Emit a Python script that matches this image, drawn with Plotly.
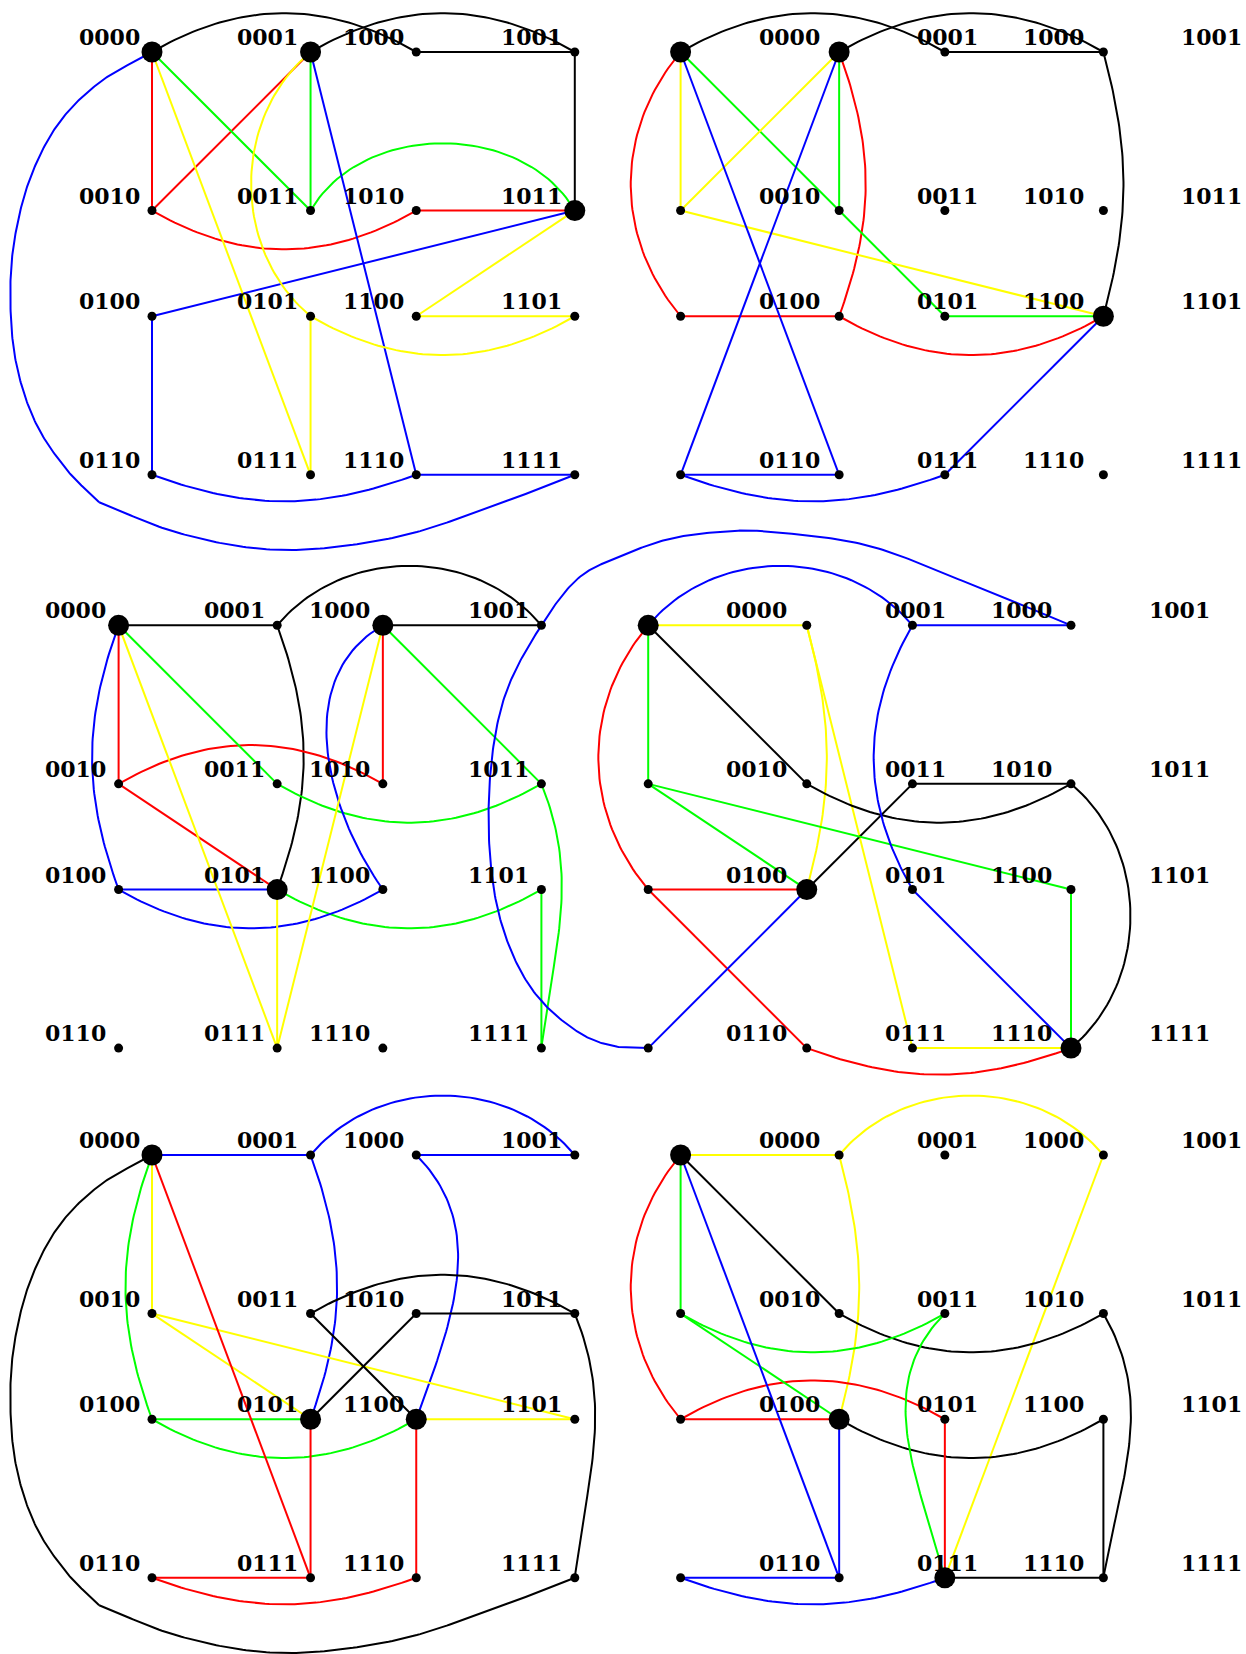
import math
import numpy as np
import plotly.graph_objects as go

# ---------------- data ----------------
GRID_LABELS = [
    ["0000", "0001", "1000", "1001"],
    ["0010", "0011", "1010", "1011"],
    ["0100", "0101", "1100", "1101"],
    ["0110", "0111", "1110", "1111"],
]
COL_POS = [0.0, 1.5, 2.5, 4.0]
ROW_POS = [0.0, 1.5, 2.5, 4.0]

COLORS = {"k": "#000000", "r": "#ff0000", "g": "#00ff00", "b": "#0000ff", "y": "#ffff00"}

# panel origins in page pixels, label shift (in units), big nodes
PANEL_ORIGIN = [(152.0, 52.0), (680.6, 52.0), (118.6, 625.3), (648.2, 625.3), (152.0, 1155.0), (680.6, 1155.0)]
PANEL_LABEL_SHIFT = [0.0, 1.434, 0.0, 1.434, 0.0, 1.434]
PANEL_BIG = [
    ["0000", "0001", "1011"],
    ["0000", "0001", "1101"],
    ["0000", "1000", "0101"],
    ["0000", "0101", "1111"],
    ["0000", "0101", "1100"],
    ["0000", "0101", "1110"],
]

# waypoint paths (in grid units, relative to panel origin); each inner list is one smooth piece
PATHS = {
    "loopA": [
        [(0, 0), (-0.50, 0.29), (-0.88, 0.67), (-1.14, 1.16), (-1.29, 1.71), (-1.34, 2.23),
         (-1.29, 2.92), (-1.10, 3.51), (-0.80, 3.96), (-0.50, 4.26)],
        [(-0.50, 4.26), (0.25, 4.55), (1.18, 4.71), (2.31, 4.59), (3.24, 4.29), (4, 4)],
    ],
    "loopB": [
        [(0, 4), (-0.28, 3.99), (-0.61, 3.88), (-1.08, 3.47), (-1.40, 2.78), (-1.51, 1.75),
         (-1.37, 0.71), (-1.01, 0.0), (-0.645, -0.46), (-0.27, -0.65), (0.21, -0.82),
         (0.84, -0.895), (1.15, -0.885), (2.06, -0.76), (3.0, -0.41), (4, 0)],
    ],
}

# edges: (from, to, colour, bend) ; bend = angle in degrees, (out, in) angles, or path name
EDGES = [
    [  # panel 1
        ("0000", "1000", "k", -30), ("0001", "1001", "k", -30), ("1000", "1001", "k", 0), ("1001", "1011", "k", 0),
        ("0000", "0010", "r", 0), ("0001", "0010", "r", 0), ("0010", "1010", "r", 30), ("1010", "1011", "r", 0),
        ("0000", "0011", "g", 0), ("0001", "0011", "g", 0), ("0011", "1011", "g", -60),
        ("0000", "1111", "b", "loopA"), ("0001", "1110", "b", 0), ("0100", "1011", "b", 0),
        ("0100", "0110", "b", 0), ("0110", "1110", "b", 20), ("1110", "1111", "b", 0),
        ("0000", "0111", "y", 0), ("0001", "0101", "y", 50), ("0101", "0111", "y", 0),
        ("0101", "1101", "y", 30), ("1100", "1101", "y", 0), ("1011", "1100", "y", 0),
    ],
    [  # panel 2
        ("0000", "1000", "k", -30), ("0001", "1001", "k", -30), ("1000", "1001", "k", 0), ("1001", "1101", "k", -15),
        ("0000", "0100", "r", 40), ("0001", "0101", "r", -20), ("0100", "0101", "r", 0), ("0101", "1101", "r", 30),
        ("0000", "0011", "g", 0), ("0001", "0011", "g", 0), ("0011", "1100", "g", 0), ("1100", "1101", "g", 0),
        ("0000", "0010", "y", 0), ("0001", "0010", "y", 0), ("0010", "1101", "y", 0),
        ("0000", "0111", "b", 0), ("0001", "0110", "b", 0), ("0110", "0111", "b", 0),
        ("0110", "1110", "b", 20), ("1110", "1101", "b", 0),
    ],
    [  # panel 3
        ("0000", "0001", "k", 0), ("0001", "1001", "k", -50), ("1000", "1001", "k", 0), ("0001", "0101", "k", -20),
        ("0000", "0010", "r", 0), ("0010", "1010", "r", -30), ("1000", "1010", "r", 0), ("0010", "0101", "r", 0),
        ("0000", "0011", "g", 0), ("0011", "1011", "g", 30), ("1000", "1011", "g", 0),
        ("1011", "1111", "g", (-22, -7)), ("1101", "1111", "g", 0), ("0101", "1101", "g", 30),
        ("0000", "0100", "b", 20), ("0100", "0101", "b", 0), ("0100", "1100", "b", 30), ("1000", "1100", "b", (60, 35)),
        ("0000", "0111", "y", 0), ("0101", "0111", "y", 0), ("1000", "0111", "y", 0),
    ],
    [  # panel 4
        ("0000", "0001", "y", 0), ("0001", "0101", "y", -15), ("0001", "1110", "y", 0), ("1110", "1111", "y", 0),
        ("0000", "0011", "k", 0), ("0011", "1011", "k", 30), ("1010", "1011", "k", 0),
        ("1010", "0101", "k", 0), ("1011", "1111", "k", -50),
        ("0000", "0100", "r", 40), ("0100", "0101", "r", 0), ("0100", "0111", "r", 0), ("0111", "1111", "r", 20),
        ("0000", "0010", "g", 0), ("0010", "0101", "g", 0), ("0010", "1101", "g", 0), ("1101", "1111", "g", 0),
        ("0000", "1000", "b", -50), ("1000", "1001", "b", 0), ("1000", "1100", "b", 30),
        ("1100", "1111", "b", 0), ("0101", "0110", "b", 0), ("0110", "1001", "b", "loopB"),
    ],
    [  # panel 5
        ("0000", "0001", "b", 0), ("0001", "1001", "b", -50), ("1000", "1001", "b", 0),
        ("0001", "0101", "b", -20), ("1000", "1100", "b", (-45, -20)),
        ("0000", "0100", "g", 20), ("0100", "0101", "g", 0), ("0100", "1100", "g", 30),
        ("0000", "0010", "y", 0), ("0010", "0101", "y", 0), ("0010", "1101", "y", 0), ("1100", "1101", "y", 0),
        ("0000", "0111", "r", 0), ("0101", "0111", "r", 0), ("0110", "0111", "r", 0),
        ("0110", "1110", "r", 20), ("1100", "1110", "r", 0),
        ("0011", "1011", "k", -30), ("0011", "1100", "k", 0), ("1010", "1011", "k", 0),
        ("1010", "0101", "k", 0), ("1011", "1111", "k", (-22, -7)), ("0000", "1111", "k", "loopA"),
    ],
    [  # panel 6
        ("0000", "0001", "y", 0), ("0001", "1001", "y", -50), ("0001", "0101", "y", -15), ("1001", "1110", "y", 0),
        ("0000", "0011", "k", 0), ("0011", "1011", "k", 30), ("1011", "1111", "k", (-30, -10)),
        ("0101", "1101", "k", 30), ("1101", "1111", "k", 0), ("1110", "1111", "k", 0),
        ("0000", "0100", "r", 40), ("0100", "0101", "r", 0), ("0100", "1100", "r", -30), ("1100", "1110", "r", 0),
        ("0000", "0010", "g", 0), ("0010", "1010", "g", 30), ("0010", "0101", "g", 0), ("1010", "1110", "g", (45, 15)),
        ("0000", "0111", "b", 0), ("0101", "0111", "b", 0), ("0110", "0111", "b", 0), ("0110", "1110", "b", 20),
    ],
]

# ---------------- geometry helpers ----------------
UNIT = 105.7
W, H = 1246, 1654

NODE_UNIT = {}
for r, row in enumerate(GRID_LABELS):
    for c, lab in enumerate(row):
        NODE_UNIT[lab] = (COL_POS[c], ROW_POS[r])


def to_px(panel, u, v):
    ox, oy = PANEL_ORIGIN[panel]
    return ox + u * UNIT, oy + v * UNIT


def bend_curve(p0, p3, ang, n=60):
    ao, ai = (ang, ang) if not isinstance(ang, tuple) else ang
    p0 = np.array(p0, float)
    p3 = np.array(p3, float)
    d = p3 - p0
    L = np.hypot(*d)
    t = d / L
    nrm = np.array([-t[1], t[0]])
    k = 0.3915 * L
    ro, ri = math.radians(ao), math.radians(ai)
    p1 = p0 + k * (math.cos(ro) * t + math.sin(ro) * nrm)
    p2 = p3 + k * (-math.cos(ri) * t + math.sin(ri) * nrm)
    ts = np.linspace(0, 1, n)[:, None]
    pts = ((1 - ts) ** 3) * p0 + 3 * ((1 - ts) ** 2) * ts * p1 + 3 * (1 - ts) * ts ** 2 * p2 + ts ** 3 * p3
    return pts[:, 0], pts[:, 1]


def catmull(points, n=30, alpha=0.5):
    P = [np.array(p, float) for p in points]
    ext = [2 * P[0] - P[1]] + P + [2 * P[-1] - P[-2]]
    xs, ys = [], []
    for i in range(1, len(ext) - 2):
        p0, p1, p2, p3 = ext[i - 1], ext[i], ext[i + 1], ext[i + 2]
        t0 = 0.0
        t1 = t0 + np.linalg.norm(p1 - p0) ** alpha
        t2 = t1 + np.linalg.norm(p2 - p1) ** alpha
        t3 = t2 + np.linalg.norm(p3 - p2) ** alpha
        last = (i == len(ext) - 3)
        for t in np.linspace(t1, t2, n, endpoint=last):
            a1 = (t1 - t) / (t1 - t0) * p0 + (t - t0) / (t1 - t0) * p1
            a2 = (t2 - t) / (t2 - t1) * p1 + (t - t1) / (t2 - t1) * p2
            a3 = (t3 - t) / (t3 - t2) * p2 + (t - t2) / (t3 - t2) * p3
            b1 = (t2 - t) / (t2 - t0) * a1 + (t - t0) / (t2 - t0) * a2
            b2 = (t3 - t) / (t3 - t1) * a2 + (t - t1) / (t3 - t1) * a3
            c = (t2 - t) / (t2 - t1) * b1 + (t - t1) / (t2 - t1) * b2
            xs.append(c[0])
            ys.append(c[1])
    return xs, ys


fig = go.Figure()

for pi, edges in enumerate(EDGES):
    for a, b, col, bend in edges:
        ua, ub = NODE_UNIT[a], NODE_UNIT[b]
        segs = []
        if isinstance(bend, str):
            for seg in PATHS[bend]:
                segs.append(catmull(seg))
        elif bend == 0:
            segs.append(([ua[0], ub[0]], [ua[1], ub[1]]))
        else:
            segs.append(bend_curve(ua, ub, bend))
        for xs, ys in segs:
            px = [to_px(pi, u, v) for u, v in zip(xs, ys)]
            fig.add_trace(go.Scatter(
                x=[p[0] for p in px], y=[p[1] for p in px], mode="lines",
                line=dict(color=COLORS[col], width=2), hoverinfo="skip", showlegend=False))

annotations = []
for pi in range(6):
    small_x, small_y, big_x, big_y = [], [], [], []
    for lab, (u, v) in NODE_UNIT.items():
        x, y = to_px(pi, u, v)
        if lab in PANEL_BIG[pi]:
            big_x.append(x); big_y.append(y)
        else:
            small_x.append(x); small_y.append(y)
        lx = x + PANEL_LABEL_SHIFT[pi] * UNIT - 10.5
        ly = y - 15.0
        annotations.append(dict(
            x=lx / W, y=1 - ly / H, text=lab, showarrow=False,
            xanchor="right", yanchor="middle", xref="paper", yref="paper",
            font=dict(family="DejaVu Serif", size=22, color="#000000", weight="bold")))
    fig.add_trace(go.Scatter(x=small_x, y=small_y, mode="markers",
                             marker=dict(color="#000000", size=9), hoverinfo="skip", showlegend=False))
    fig.add_trace(go.Scatter(x=big_x, y=big_y, mode="markers",
                             marker=dict(color="#000000", size=21), hoverinfo="skip", showlegend=False))

fig.update_layout(
    width=W, height=H, margin=dict(l=0, r=0, t=0, b=0),
    paper_bgcolor="#ffffff", plot_bgcolor="#ffffff",
    xaxis=dict(range=[0, W], visible=False, fixedrange=True),
    yaxis=dict(range=[H, 0], visible=False, fixedrange=True),
    annotations=annotations,
)
fig.write_html(
    "out.html",
    config={"displayModeBar": False},
    post_script="document.body.style.margin='0';document.body.style.overflow='hidden';",
)
